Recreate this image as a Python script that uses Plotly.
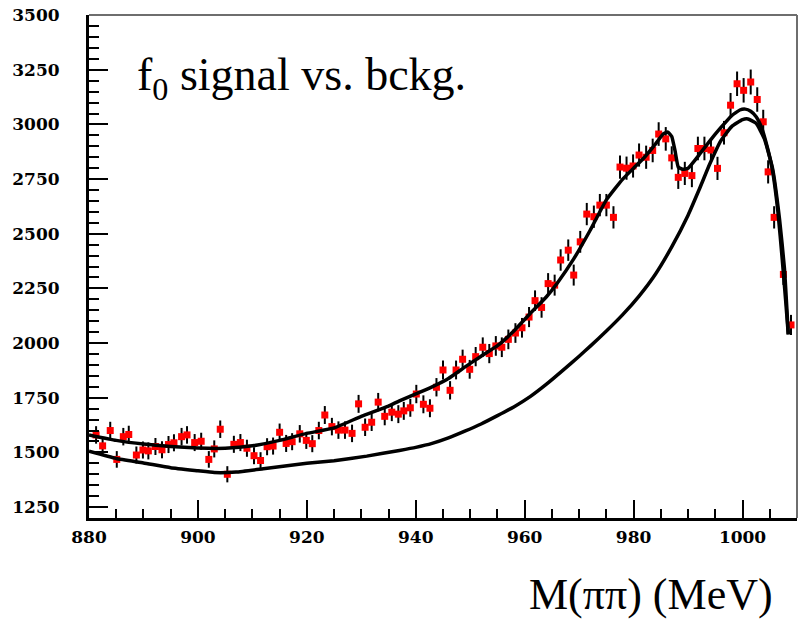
import plotly.graph_objects as go

# ---- data ----
mass = [881.3, 882.5, 883.9, 885.1, 886.3, 887.3, 888.7, 889.9, 890.9, 892.2,
        893.4, 894.6, 895.6, 897.0, 898.0, 899.4, 900.6, 902.0, 903.0, 904.1,
        905.4, 906.6, 907.8, 909.0, 910.3, 911.5, 912.7, 913.8, 915.0, 916.2,
        917.3, 918.7, 919.9, 921.0, 922.2, 923.3, 924.6, 925.8, 927.0, 928.3,
        929.5, 930.7, 931.9, 933.1, 934.3, 935.6, 936.8, 937.8, 939.0, 940.1,
        941.4, 942.6, 943.8, 945.0, 946.3, 947.4, 948.6, 949.9, 951.0, 952.3,
        953.5, 954.7, 955.8, 957.0, 958.3, 959.5, 960.8, 961.9, 963.1, 964.3,
        965.5, 966.6, 968.0, 969.0, 970.2, 971.4, 972.7, 973.8, 975.0, 976.3,
        977.5, 978.7, 979.9, 981.0, 982.3, 983.5, 984.6, 985.9, 987.0, 988.2,
        989.4, 990.7, 991.8, 993.0, 994.2, 995.4, 996.6, 997.8, 999.0, 1000.2,
        1001.5, 1002.7, 1003.8, 1004.7, 1005.8, 1007.5, 1008.9]

counts = [1580, 1530, 1600, 1468, 1572, 1582, 1488, 1511, 1507, 1527,
          1512, 1536, 1544, 1572, 1580, 1545, 1551, 1468, 1516, 1606,
          1400, 1537, 1545, 1519, 1485, 1463, 1526, 1529, 1592, 1541,
          1549, 1585, 1555, 1540, 1600, 1671, 1618, 1602, 1602, 1587,
          1722, 1615, 1638, 1730, 1665, 1684, 1675, 1690, 1704, 1767,
          1720, 1702, 1798, 1877, 1784, 1877, 1926, 1880, 1938, 1981,
          1952, 1987, 1981, 2017, 2046, 2070, 2119, 2194, 2163, 2272,
          2265, 2380, 2425, 2311, 2463, 2590, 2578, 2631, 2631, 2575,
          2805, 2800, 2810, 2860, 2850, 2881, 2956, 2934, 2847, 2758,
          2776, 2766, 2890, 2890, 2883, 2799, 2962, 3088, 3186, 3156,
          3194, 3114, 3012, 2783, 2575, 2314, 2083]

errors = [40, 39, 40, 38, 40, 40, 39, 39, 39, 39,
          39, 39, 39, 40, 40, 39, 39, 38, 39, 40,
          37, 39, 39, 39, 39, 38, 39, 39, 40, 39,
          39, 40, 39, 39, 40, 41, 40, 40, 40, 40,
          41, 40, 40, 42, 41, 41, 41, 41, 41, 42,
          41, 41, 42, 43, 42, 43, 44, 43, 44, 45,
          44, 45, 45, 45, 45, 45, 46, 47, 47, 48,
          48, 49, 49, 48, 50, 51, 51, 51, 51, 51,
          53, 53, 53, 53, 53, 54, 54, 54, 53, 53,
          53, 53, 54, 54, 54, 53, 54, 56, 56, 56,
          57, 56, 55, 53, 51, 48, 46]

fit_x = [880, 885, 890, 895, 900, 905, 910, 915, 920, 925, 930, 935, 937, 940,
         943, 946, 949, 952, 955, 958, 961, 964, 966, 969, 972, 975, 978, 980,
         982, 984, 985.5, 986.3, 987.0, 987.6, 988.2, 989.0, 990.0, 992.0,
         994.0, 996.0, 998.0, 999.5, 1000.5, 1001.5, 1002.5, 1003.5, 1004.5,
         1005.5, 1006.5, 1007.3, 1007.9, 1008.4]
fit_y = [1580, 1555, 1538, 1527, 1520, 1519, 1530, 1555, 1587, 1612, 1665, 1712,
         1736, 1768, 1800, 1838, 1890, 1940, 1988, 2055, 2135, 2212, 2275, 2385,
         2515, 2655, 2750, 2800, 2850, 2910, 2958, 2965, 2945, 2880, 2805, 2795,
         2800, 2860, 2925, 2985, 3040, 3066, 3070, 3060, 3035, 2985, 2900, 2790,
         2600, 2380, 2200, 2040]

bkg_x = [880, 885, 890, 895, 900, 903, 907, 912, 920, 925, 931, 937, 940, 943,
         946, 949, 952, 955, 958, 961, 964, 967, 970, 972, 975, 978, 981, 984,
         987, 990, 992, 994, 996, 998, 1000, 1001, 1002.5, 1004, 1005.5, 1006.8,
         1007.7, 1008.4]
bkg_y = [1505, 1472, 1452, 1430, 1416, 1408, 1410, 1425, 1450, 1462, 1483, 1509,
         1523, 1541, 1566, 1597, 1630, 1668, 1708, 1755, 1812, 1875, 1940, 1985,
         2055, 2130, 2215, 2315, 2440, 2585, 2700, 2820, 2925, 2990, 3022, 3025,
         3005, 2935, 2800, 2565, 2340, 2040]

x_ticks = [880, 900, 920, 940, 960, 980, 1000]
y_ticks = [1250, 1500, 1750, 2000, 2250, 2500, 2750, 3000, 3250, 3500]

fig = go.Figure()

fig.add_trace(go.Scatter(
    x=mass, y=counts, mode="markers",
    marker=dict(symbol="square", size=7, color="#ff0000"),
    error_y=dict(type="data", array=errors, color="black", thickness=2, width=0),
    showlegend=False, hoverinfo="skip"))

fig.add_trace(go.Scatter(
    x=bkg_x, y=bkg_y, mode="lines",
    line=dict(color="black", width=3.5, shape="spline", smoothing=0.4),
    showlegend=False, hoverinfo="skip"))

fig.add_trace(go.Scatter(
    x=fit_x, y=fit_y, mode="lines",
    line=dict(color="black", width=3.5, shape="spline", smoothing=0.4),
    showlegend=False, hoverinfo="skip"))

tickfont = dict(family="DejaVu Serif", size=17, color="black", weight="bold")

fig.update_layout(
    width=803, height=620,
    margin=dict(l=89, r=6, t=15, b=102),
    paper_bgcolor="white", plot_bgcolor="white",
    xaxis=dict(range=[880, 1010], tickvals=x_ticks, ticktext=[str(v) for v in x_ticks],
               ticks="inside", ticklen=18, tickwidth=2, tickcolor="black",
               showline=True, linecolor="black", linewidth=3,
               showgrid=False, zeroline=False, tickfont=tickfont,
               ticklabelstandoff=2,
               minor=dict(ticks="inside", ticklen=9, tickwidth=2, tickcolor="black",
                          tick0=880, dtick=5, showgrid=False)),
    yaxis=dict(range=[1200, 3500.5], tickvals=y_ticks, ticktext=[str(v) for v in y_ticks],
               ticks="inside", ticklen=19, tickwidth=2, tickcolor="black",
               showline=True, linecolor="black", linewidth=3,
               showgrid=False, zeroline=False, tickfont=tickfont,
               ticklabelstandoff=23,
               minor=dict(ticks="inside", ticklen=10, tickwidth=2, tickcolor="black",
                          tick0=1200, dtick=50, showgrid=False)),
    shapes=[
        dict(type="line", xref="paper", yref="paper", x0=0, x1=1, y0=1, y1=1,
             line=dict(color="#6e6e6e", width=2)),
        dict(type="line", xref="paper", yref="paper", x0=1, x1=1, y0=0, y1=1,
             line=dict(color="#6e6e6e", width=2)),
    ],
    annotations=[
        dict(text="f<sub>0</sub> signal vs. bckg.", xref="paper", yref="paper",
             x=0.065, y=0.875, xanchor="left", yanchor="middle", showarrow=False,
             font=dict(family="Liberation Serif", size=46, color="black")),
        dict(text="M(\u03c0\u03c0) (MeV)", xref="paper", yref="paper",
             x=0.969, y=-0.153, xanchor="right", yanchor="middle", showarrow=False,
             font=dict(family="Liberation Serif", size=44, color="black")),
    ],
)

fig.write_html("out.html")
